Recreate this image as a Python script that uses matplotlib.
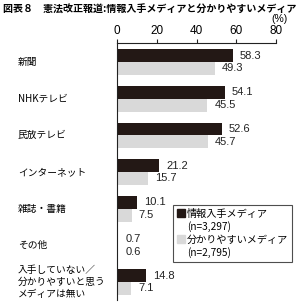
import matplotlib.pyplot as plt
from matplotlib.patches import Patch
from matplotlib.transforms import blended_transform_factory
import numpy as np

plt.rcParams['font.family'] = ['Noto Sans CJK JP', 'DejaVu Sans']

categories = ['新聞', 'NHKテレビ', '民放テレビ', 'インターネット', '雑誌・書籍', 'その他',
              '入手していない／\n分かりやすいと思う\nメディアは無い']
info_media = [58.3, 54.1, 52.6, 21.2, 10.1, 0.7, 14.8]
easy_media = [49.3, 45.5, 45.7, 15.7, 7.5, 0.6, 7.1]
legend_names = ['情報入手メディア', '分かりやすいメディア']
legend_n = ['(n=3,297)', '(n=2,795)']
xticks = [0, 20, 40, 60, 80]

dark = '#231815'
light = '#d9d9d9'
num_font = 'Liberation Sans'

W, H = 297, 303
fig = plt.figure(figsize=(W / 100, H / 100), dpi=100)
ax = fig.add_axes([117 / W, 1 - 300 / H, (276 - 117) / W, (300 - 43) / H])

y = np.arange(len(categories))
h = 0.35
ax.barh(y - h / 2, info_media, height=h, color=dark)
ax.barh(y + h / 2, easy_media, height=h, color=light)

for i in range(len(categories)):
    ax.annotate(f'{info_media[i]:.1f}', (info_media[i], y[i] - h / 2), xytext=(5, 0),
                textcoords='offset points', va='center', ha='left', fontsize=8,
                family=num_font, color='#222222')
    ax.annotate(f'{easy_media[i]:.1f}', (easy_media[i], y[i] + h / 2), xytext=(5, 0),
                textcoords='offset points', va='center', ha='left', fontsize=8,
                family=num_font, color='#222222')

ax.set_xlim(0, 80)
ax.set_ylim(6.49, -0.52)
ax.xaxis.tick_top()
ax.set_xticks(xticks)
ax.set_xticklabels([str(t) for t in xticks], family=num_font, fontsize=8.5)
ax.tick_params(axis='x', length=3, width=0.8, pad=1.5, color='#222222')
ax.set_yticks([])
for s in ['right', 'bottom']:
    ax.spines[s].set_visible(False)
for s in ['top', 'left']:
    ax.spines[s].set_linewidth(0.8)
    ax.spines[s].set_color('#222222')

tr = blended_transform_factory(fig.transFigure, ax.transData)
for i, c in enumerate(categories):
    ax.text(18 / W, y[i], c, transform=tr, ha='left', va='center', fontsize=7,
            linespacing=1.25)

fig.text(279 / W, 1 - 19.5 / H, '(%)', ha='center', va='center', fontsize=7.5, family=num_font)
fig.text(3 / W, 1 - 10 / H, '図表８　憲法改正報道:情報入手メディアと分かりやすいメディア',
         ha='left', va='center', fontsize=7.2, fontweight='bold')

blank = Patch(visible=False)
handles = [Patch(color=dark), blank, Patch(color=light), blank]
labels = [legend_names[0], legend_n[0], legend_names[1], legend_n[1]]
leg = fig.legend(handles, labels, loc='upper left',
                 bbox_to_anchor=(173 / W, 1 - 205 / H), fontsize=7.3,
                 frameon=True, fancybox=False, handlelength=0.8, handleheight=0.8,
                 handletextpad=0.25, borderpad=0.35, labelspacing=0.25, borderaxespad=0)
leg.get_frame().set_edgecolor('#222222')
leg.get_frame().set_linewidth(0.8)

fig.savefig('out.png', dpi=100)
